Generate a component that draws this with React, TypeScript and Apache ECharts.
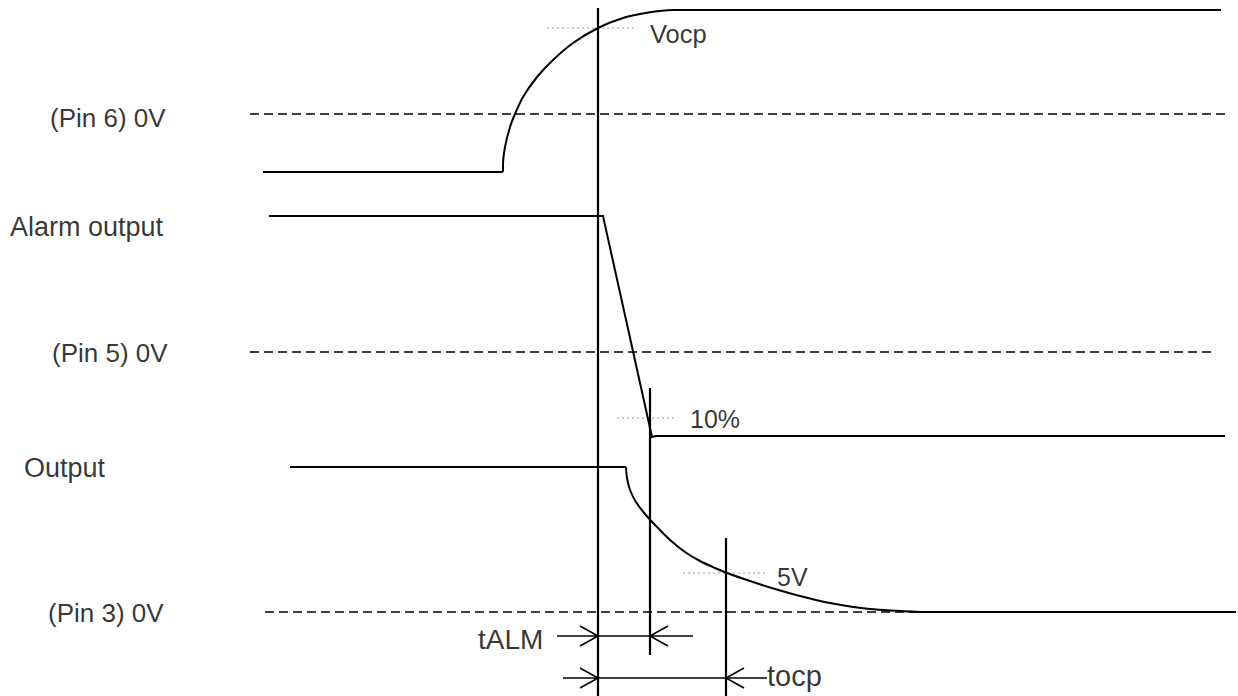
import React, { useEffect, useRef } from "react";
import * as echarts from "echarts";

// Timing diagram, coordinates in diagram units (x: time, y: level, downward)
const pin6Low = [[263, 172], [503, 172]];
const pin6Rise = [
  [503, 172], [503, 165], [505, 147], [510, 127], [515, 114], [523, 97],
  [537, 77], [553, 60], [573, 43], [598, 28], [623, 18], [647, 12.7], [673, 10], [680, 10],
];
const pin6High = [[680, 10], [1221, 10]];

const alarmOut = [[269, 216], [603, 216], [652, 437], [656, 436], [1225, 436]];

const outputHigh = [[290, 467], [626, 467]];
const outputFall = [
  [626, 467], [627, 478], [630, 490], [636, 502], [645, 514], [657, 527], [670, 540],
  [685, 552], [700, 561], [715, 568], [727, 573], [750, 581], [775, 589], [800, 596],
  [830, 603], [870, 609], [920, 612],
];
const outputLow = [[920, 612], [1236, 612]];

const zeroLines = [
  [[250, 114], [1225, 114]],
  [[250, 352], [1216, 352]],
  [[265, 612], [1236, 612]],
];

const markers = [
  [[598, 8], [598, 696]],
  [[650, 388], [650, 655]],
  [[726, 538], [726, 696]],
];

const refDots = [
  [[547, 28], [637, 28]],
  [[617, 418], [677, 418]],
  [[683, 573], [768, 573]],
];

const dimLines = [
  [[557, 636], [693, 636]],
  [[563, 678], [767, 678]],
];
// arrow tips: [x, y, direction]
const arrowTips = [
  [598, 636, 1],
  [650, 636, -1],
  [598, 678, 1],
  [726, 678, -1],
];

const labels = [
  { name: "(Pin 6) 0V", value: [50, 118], size: 26 },
  { name: "Alarm output", value: [10, 227], size: 27 },
  { name: "(Pin 5) 0V", value: [52, 353], size: 26 },
  { name: "Output", value: [24, 468], size: 27 },
  { name: "(Pin 3) 0V", value: [48, 613], size: 26 },
  { name: "Vocp", value: [650, 34], size: 25.5 },
  { name: "10%", value: [690, 419], size: 25 },
  { name: "5V", value: [777, 577], size: 25 },
  { name: "tALM", value: [478, 639], size: 28 },
  { name: "tocp", value: [767, 676], size: 29 },
];

const FONT = "'Liberation Sans', Arial, Helvetica, sans-serif";

function seg(data: number[][], opts: any = {}) {
  return {
    type: "line",
    data,
    showSymbol: false,
    symbol: "none",
    silent: true,
    smooth: opts.smooth ?? false,
    lineStyle: {
      color: opts.color ?? "#000",
      width: opts.width ?? 2,
      type: opts.type ?? "solid",
      cap: "butt",
      join: "miter",
    },
    z: opts.z ?? 3,
  };
}

export default function App() {
  const ref = useRef<HTMLDivElement>(null);
  useEffect(() => {
    if (!ref.current) return;
    const chart = echarts.init(ref.current, undefined, { renderer: "svg" });
    const series: any[] = [];
    zeroLines.forEach((d) => series.push(seg(d, { type: [9, 5], width: 1.6, z: 2 })));
    refDots.forEach((d) => series.push(seg(d, { type: [2, 3], width: 1, color: "#9a9a9a", z: 1 })));
    series.push(seg(pin6Low));
    series.push(seg(pin6Rise, { smooth: 0.3 }));
    series.push(seg(pin6High));
    series.push(seg(alarmOut));
    series.push(seg(outputHigh));
    series.push(seg(outputFall, { smooth: 0.3 }));
    series.push(seg(outputLow));
    markers.forEach((d) => series.push(seg(d, { width: 2.2 })));
    dimLines.forEach((d) => series.push(seg(d, { width: 1.6 })));
    arrowTips.forEach(([x, y, dir]) => {
      const back = x - dir * 18;
      series.push(seg([[back, y - 10], [x, y], [back, y + 10]], { width: 1.6 }));
    });
    series.push({
      type: "scatter",
      symbolSize: 0,
      silent: true,
      data: labels.map((l) => ({
        name: l.name,
        value: l.value,
        label: { fontSize: l.size },
      })),
      label: {
        show: true,
        position: "right",
        distance: 0,
        formatter: "{b}",
        color: "#000",
        fontFamily: FONT,
        fontSize: 25,
      },
      z: 5,
    });

    chart.setOption({
      animation: false,
      backgroundColor: "#fff",
      grid: { left: 0, right: 0, top: 0, bottom: 0 },
      xAxis: { type: "value", min: 0, max: 1238, show: false },
      yAxis: { type: "value", min: 0, max: 696, inverse: true, show: false },
      series,
    });
    return () => chart.dispose();
  }, []);
  return (
    <div
      ref={ref}
      style={{ position: "fixed", left: 0, top: 0, width: 1238, height: 696 }}
    />
  );
}
